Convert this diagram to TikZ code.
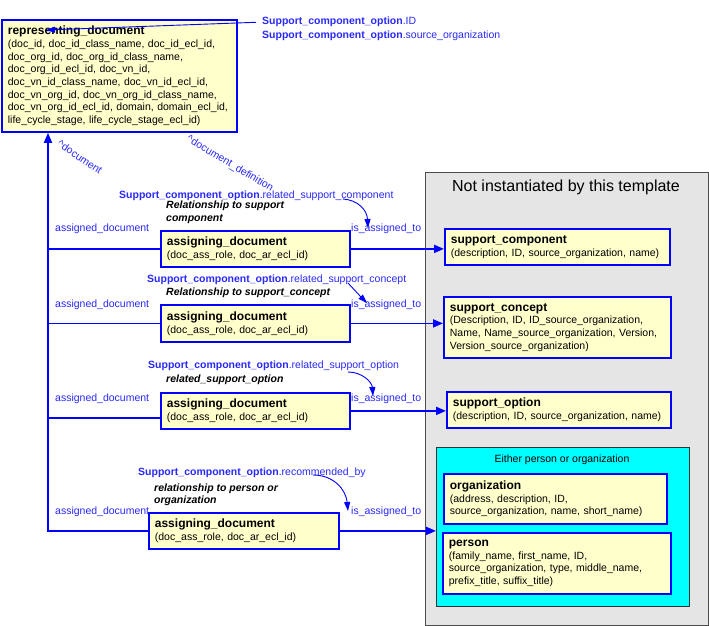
\documentclass[tikz,border=0pt]{standalone}
\usepackage{fontspec}
\setmainfont{Liberation Sans}
\usetikzlibrary{arrows.meta,calc}
\definecolor{boxyellow}{RGB}{255,255,204}
\definecolor{greyfill}{RGB}{229,229,229}
\definecolor{cyanfill}{RGB}{0,255,255}
\definecolor{lblue}{RGB}{40,40,255}
\newcommand\bodyfont{\fontsize{10.5}{12.7}\selectfont}
\newcommand\ttl[1]{{\fontsize{12}{12.7}\selectfont\bfseries #1}}
\newcommand\scop{\textbf{Support\_component\_option}}
\begin{document}
\begin{tikzpicture}[x=1pt,y=-1pt,
  ent/.style={draw=blue, line width=1.8pt, fill=boxyellow, anchor=north west, align=left,
              inner xsep=6pt, inner ysep=0pt, font=\bodyfont},
  conn/.style={blue, line width=1.8pt},
  arr/.style={conn, -{Triangle[length=10pt,width=8pt]}},
  thinarr/.style={blue, line width=0.9pt, -{Triangle[length=9pt,width=6pt]}},
  lbl/.style={text=lblue, font=\bodyfont, anchor=base west, inner sep=0pt},
  note/.style={font=\bodyfont\bfseries\itshape, anchor=base west, inner sep=0pt}]
\useasboundingbox (0,0) rectangle (709,626);

% containers
\node[draw=black!70, line width=1pt, fill=greyfill, minimum width=283pt, minimum height=453pt,
      anchor=north west, inner sep=0pt] (grey) at (425,172) {};
\node[font=\fontsize{16}{18}\selectfont, anchor=base, inner sep=0pt] (greyt) at (566,191) {Not instantiated by this template};
\node[draw=black!80, line width=1pt, fill=cyanfill, minimum width=253pt, minimum height=159pt,
      anchor=north west, inner sep=0pt] (cyanbox) at (436,447) {};
\node[font=\bodyfont, anchor=base, inner sep=0pt] (cyant) at (562,462) {Either person or organization};

% entities
\node[ent, text width=223pt, minimum height=112pt] (rep) at (1,19)
 {\ttl{representing\_document}\\
  (doc\_id, doc\_id\_class\_name, doc\_id\_ecl\_id,\\
  doc\_org\_id, doc\_org\_id\_class\_name,\\
  doc\_org\_id\_ecl\_id, doc\_vn\_id,\\
  doc\_vn\_id\_class\_name, doc\_vn\_id\_ecl\_id,\\
  doc\_vn\_org\_id, doc\_vn\_org\_id\_class\_name,\\
  doc\_vn\_org\_id\_ecl\_id, domain, domain\_ecl\_id,\\
  life\_cycle\_stage, life\_cycle\_stage\_ecl\_id)};

\node[ent, text width=177pt, minimum height=36pt] (ad1) at (160,230)
 {\ttl{assigning\_document}\\(doc\_ass\_role, doc\_ar\_ecl\_id)};
\node[ent, text width=177pt, minimum height=37pt] (ad2) at (160,304)
 {\ttl{assigning\_document}\\(doc\_ass\_role, doc\_ar\_ecl\_id)};
\node[ent, text width=177pt, minimum height=36pt] (ad3) at (160,392)
 {\ttl{assigning\_document}\\(doc\_ass\_role, doc\_ar\_ecl\_id)};
\node[ent, text width=178pt, minimum height=36pt] (ad4) at (148,512)
 {\ttl{assigning\_document}\\(doc\_ass\_role, doc\_ar\_ecl\_id)};

\node[ent, text width=213pt, minimum height=36pt] (sc) at (444,228)
 {\ttl{support\_component}\\(description, ID, source\_organization, name)};
\node[ent, text width=215pt, minimum height=61pt] (scon) at (443,296)
 {\ttl{support\_concept}\\(Description, ID, ID\_source\_organization,\\
  Name, Name\_source\_organization, Version,\\Version\_source\_organization)};
\node[ent, text width=212pt, minimum height=36pt] (sopt) at (446,391)
 {\ttl{support\_option}\\(description, ID, source\_organization, name)};
\node[ent, text width=211pt, minimum height=50pt] (org) at (443,473)
 {\ttl{organization}\\(address, description, ID,\\source\_organization, name, short\_name)};
\node[ent, text width=216pt, minimum height=61pt] (person) at (442,532)
 {\ttl{person}\\(family\_name, first\_name, ID,\\source\_organization, type, middle\_name,\\prefix\_title, suffix\_title)};

% labels
\node[lbl] (id1) at (262,25) {\scop.ID};
\node[lbl] (id2) at (262,38) {\scop.source\_organization};
\node[text=lblue, font=\bodyfont, rotate=-34, inner sep=0pt] (updoc) at (80,157) {\textasciicircum document};
\node[text=lblue, font=\bodyfont, rotate=-31, inner sep=0pt] (updef) at (230,164) {\textasciicircum document\_definition};

\node[lbl] (s1) at (119,198) {\scop.related\_support\_component};
\node[note] (n1a) at (166,208) {Relationship to support};
\node[note] (n1b) at (166,221) {component};
\node[lbl] (s2) at (147,282) {\scop.related\_support\_concept};
\node[note] (n2) at (166,295) {Relationship to support\_concept};
\node[lbl] (s3) at (148,368) {\scop.related\_support\_option};
\node[note] (n3) at (166,382) {related\_support\_option};
\node[lbl] (s4) at (138,475) {\scop.recommended\_by};
\node[note] (n4a) at (154,491) {relationship to person or};
\node[note] (n4b) at (154,503) {organization};

\node[lbl] (a1) at (55,231) {assigned\_document};
\node[lbl] (a2) at (55,307) {assigned\_document};
\node[lbl] (a3) at (55,401) {assigned\_document};
\node[lbl] (a4) at (55,514) {assigned\_document};
\node[lbl] (i1) at (351,231) {is\_assigned\_to};
\node[lbl] (i2) at (351,307) {is\_assigned\_to};
\node[lbl] (i3) at (351,401) {is\_assigned\_to};
\node[lbl] (i4) at (351,514) {is\_assigned\_to};

% connectors
\coordinate (repin) at ($(rep.south west)+(47,0)$);
\draw[arr] (ad4.west) -| (repin);
\draw[conn] (ad1.west) -- (ad1.west -| repin);
\draw[conn] (ad2.west) -- (ad2.west -| repin);
\draw[conn] ($(ad3.west)+(0,7)$) -- ($(ad3.west -| repin)+(0,7)$);

\draw[arr] (ad1.east) -- (ad1.east -| sc.west);
\draw[arr] (ad2.east) -- (ad2.east -| scon.west);
\draw[arr] (ad3.east) -- (ad3.east -| sopt.west);
\draw[arr] (ad4.east) -- (ad4.east -| cyanbox.west);

\coordinate (idend) at (46,30);
\draw[thinarr] ([xshift=-6pt]id1.west) -- (idend);

\coordinate (c1a) at (343,199); \coordinate (c1b) at (368,228);
\draw[thinarr] (c1a) .. controls (358,200) and (367,210) .. (c1b);
\coordinate (c2a) at (348,283); \coordinate (c2b) at (367,303);
\draw[thinarr] (c2a) .. controls (354,290) .. (c2b);
\coordinate (c3a) at (348,372); \coordinate (c3b) at (373,396);
\draw[thinarr] (c3a) .. controls (362,372) and (372,382) .. (c3b);
\coordinate (c4a) at (313,475); \coordinate (c4b) at (348,511);
\draw[thinarr] (c4a) .. controls (334,475) and (346,490) .. (c4b);
\end{tikzpicture}
\end{document}
